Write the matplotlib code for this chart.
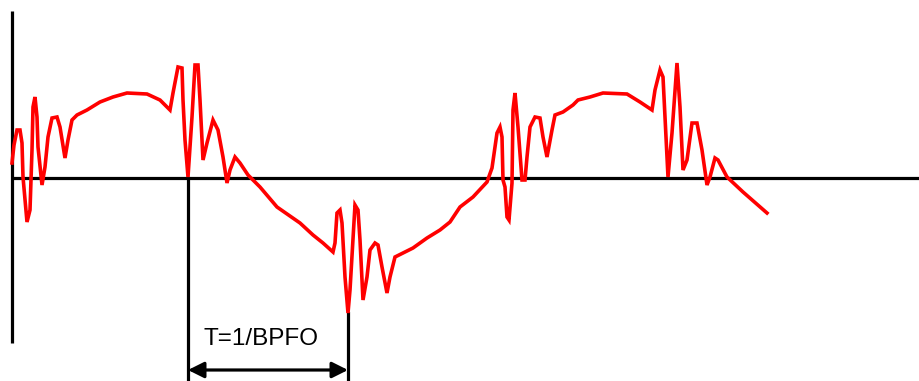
import matplotlib
matplotlib.use('Agg')
import matplotlib.pyplot as plt

# waveform (x = time position, y = screen height, both in px)
wave_x = [12, 14, 17, 20, 22, 23, 27, 30, 32, 33, 35, 37, 38, 42, 45, 48, 52, 57, 60, 65,
          68, 72, 77, 87, 100, 113, 127, 147, 160, 170, 173, 178, 182, 183, 185, 188, 192,
          195, 198, 200, 203, 207, 213, 218, 223, 227, 230, 235, 240, 248, 260, 277, 300,
          313, 323, 333, 335, 337, 340, 342, 345, 348, 350, 353, 355, 358, 360, 363, 367,
          370, 375, 378, 382, 387, 390, 395, 403, 413, 427, 440, 450, 460, 473, 487, 492,
          497, 500, 502, 503, 505, 507, 509, 512, 513, 515, 518, 522, 525, 527, 530, 535,
          540, 543, 547, 552, 555, 563, 573, 578, 590, 603, 627, 640, 652, 655, 660, 663,
          665, 668, 672, 677, 680, 683, 687, 692, 697, 702, 707, 710, 715, 718, 727, 743,
          767]
wave_y = [163, 145, 130, 130, 143, 177, 222, 210, 150, 107, 97, 117, 147, 185, 167, 137, 118,
          117, 127, 158, 140, 120, 115, 110, 102, 97, 93, 94, 100, 110, 93, 67, 68, 100, 140,
          177, 117, 65, 65, 100, 160, 143, 120, 130, 157, 183, 170, 157, 163, 175, 187, 207,
          223, 235, 243, 252, 243, 213, 210, 223, 277, 313, 290, 240, 205, 210, 240, 300, 277,
          250, 243, 245, 267, 293, 277, 257, 253, 248, 238, 230, 222, 207, 197, 182, 168, 133,
          127, 137, 180, 187, 217, 220, 183, 110, 93, 127, 180, 180, 157, 127, 117, 118, 137,
          157, 130, 115, 112, 105, 100, 97, 93, 94, 102, 110, 90, 70, 77, 117, 177, 133, 63,
          107, 170, 160, 123, 123, 150, 185, 177, 158, 160, 177, 192, 213]

axis_x = 12
axis_y = 177.5
period_start = 188
period_end = 348
label = 'T=1/BPFO'

fig = plt.figure(figsize=(9.19, 3.81), dpi=100)
ax = fig.add_axes([0, 0, 1, 1])
ax.set_xlim(0, 919)
ax.set_ylim(381, 0)
ax.axis('off')

# axes lines
ax.plot([axis_x, axis_x], [11, 343], color='black', lw=2.3, solid_capstyle='butt')
ax.plot([axis_x, 919], [axis_y, axis_y], color='black', lw=2.3, solid_capstyle='butt')

# period markers
ax.plot([period_start, period_start], [axis_y, 381], color='black', lw=2.3)
ax.plot([period_end, period_end], [313, 381], color='black', lw=2.3)

# signal
ax.plot(wave_x, wave_y, color='#ff0000', lw=2.6, solid_joinstyle='miter')

# double arrow + label
ax.annotate('', xy=(period_start, 370), xytext=(period_end, 370),
            arrowprops=dict(arrowstyle='<|-|>', color='black', lw=2.3,
                            mutation_scale=24, shrinkA=0, shrinkB=0))
ax.text(261, 339, label, ha='center', va='center', fontsize=17.5,
        family='Liberation Sans', color='black')

fig.savefig('out.png', dpi=100)
